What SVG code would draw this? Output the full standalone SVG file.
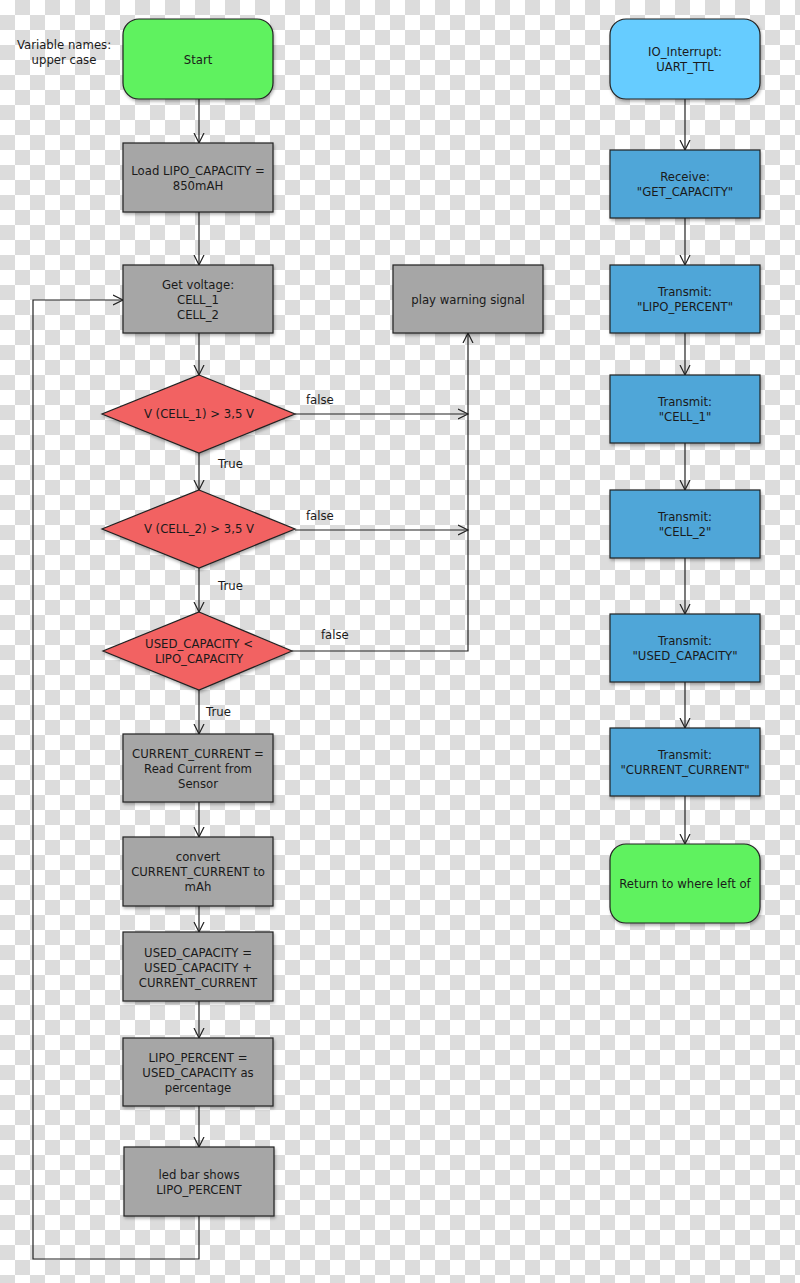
<svg xmlns="http://www.w3.org/2000/svg" width="800" height="1283" viewBox="0 0 800 1283">
<defs>
<pattern id="chk" x="0" y="0" width="30" height="30" patternUnits="userSpaceOnUse">
<rect width="30" height="30" fill="#ffffff"/>
<rect x="15" y="0" width="15" height="15" fill="#dcdcdc"/>
<rect x="0" y="15" width="15" height="15" fill="#dcdcdc"/>
</pattern>
<marker id="arr" markerWidth="12" markerHeight="12" refX="10" refY="6" orient="auto" markerUnits="userSpaceOnUse">
<path d="M0,1 L10,6 L0,11" fill="none" stroke="#222" stroke-width="1.2"/>
</marker>
<filter id="sh" x="-10%" y="-10%" width="125%" height="130%">
<feDropShadow dx="1" dy="2" stdDeviation="1.5" flood-color="#000" flood-opacity="0.3"/>
</filter>
</defs>
<style>
.t{font-family:"DejaVu Sans","Liberation Sans",sans-serif;font-size:11.7px;fill:#1a1a1a;text-anchor:middle}
.l{font-family:"DejaVu Sans","Liberation Sans",sans-serif;font-size:11.7px;fill:#1a1a1a}
.gray{fill:#a6a6a6;stroke:#222;stroke-width:1.2;filter:url(#sh)}
.grn{fill:#5ef25e;stroke:#222;stroke-width:1.2;filter:url(#sh)}
.red{fill:#f26262;stroke:#222;stroke-width:1.2;filter:url(#sh)}
.lb{fill:#66ccff;stroke:#222;stroke-width:1.2;filter:url(#sh)}
.bl{fill:#4fa6d8;stroke:#222;stroke-width:1.2;filter:url(#sh)}
.c{fill:none;stroke:#222;stroke-width:1.2}
</style>
<rect width="800" height="1283" fill="url(#chk)"/>

<g id="note"><text class="t" x="64" y="49">Variable names:</text><text class="t" x="64" y="64">upper case</text></g>

<g id="connectors">
<path class="c" d="M199,99 V143" marker-end="url(#arr)"/>
<path class="c" d="M199,212 V265" marker-end="url(#arr)"/>
<path class="c" d="M199,333 V375" marker-end="url(#arr)"/>
<path class="c" d="M199,453 V490" marker-end="url(#arr)"/>
<path class="c" d="M199,568 V612" marker-end="url(#arr)"/>
<path class="c" d="M199,690 V734" marker-end="url(#arr)"/>
<path class="c" d="M199,802 V837" marker-end="url(#arr)"/>
<path class="c" d="M199,906 V932" marker-end="url(#arr)"/>
<path class="c" d="M199,1001 V1038" marker-end="url(#arr)"/>
<path class="c" d="M199,1106 V1147" marker-end="url(#arr)"/>
<path class="c" d="M199,1216 V1259 H33 V300 H123" marker-end="url(#arr)"/>
<path class="c" d="M295,414 H468" marker-end="url(#arr)"/>
<path class="c" d="M295,530 H468" marker-end="url(#arr)"/>
<path class="c" d="M292,651 H468 V333" marker-end="url(#arr)"/>
<path class="c" d="M685,99 V150" marker-end="url(#arr)"/>
<path class="c" d="M685,218 V265" marker-end="url(#arr)"/>
<path class="c" d="M685,333 V375" marker-end="url(#arr)"/>
<path class="c" d="M685,443 V490" marker-end="url(#arr)"/>
<path class="c" d="M685,558 V614" marker-end="url(#arr)"/>
<path class="c" d="M685,682 V728" marker-end="url(#arr)"/>
<path class="c" d="M685,796 V844" marker-end="url(#arr)"/>
<text class="l" x="306" y="404">false</text>
<text class="l" x="306" y="520">false</text>
<text class="l" x="321" y="639">false</text>
<text class="l" x="218" y="468">True</text>
<text class="l" x="218" y="590">True</text>
<text class="l" x="206" y="716">True</text>
</g>

<g id="start"><rect class="grn" x="123" y="19" width="150" height="80" rx="16"/><text class="t" x="198" y="64">Start</text></g>
<g id="load"><rect class="gray" x="123" y="143" width="150" height="69"/><text class="t" x="198" y="175">Load LIPO_CAPACITY =</text><text class="t" x="198" y="190">850mAH</text></g>
<g id="getvoltage"><rect class="gray" x="123" y="265" width="150" height="68"/><text class="t" x="198" y="289">Get voltage:</text><text class="t" x="198" y="304">CELL_1</text><text class="t" x="198" y="319">CELL_2</text></g>
<g id="cond1"><polygon class="red" points="199,375 295,414 199,453 102,414"/><text class="t" x="199" y="418">V (CELL_1) &gt; 3,5 V</text></g>
<g id="cond2"><polygon class="red" points="199,490 295,529 199,568 102,529"/><text class="t" x="199" y="533">V (CELL_2) &gt; 3,5 V</text></g>
<g id="cond3"><polygon class="red" points="199,612 292,651 199,690 103,651"/><text class="t" x="199" y="648">USED_CAPACITY &lt;</text><text class="t" x="199" y="663">LIPO_CAPACITY</text></g>
<g id="warning"><rect class="gray" x="393" y="265" width="150" height="68"/><text class="t" x="468" y="304">play warning signal</text></g>
<g id="readcurrent"><rect class="gray" x="123" y="734" width="150" height="68"/><text class="t" x="198" y="758">CURRENT_CURRENT =</text><text class="t" x="198" y="773">Read Current from</text><text class="t" x="198" y="788">Sensor</text></g>
<g id="convert"><rect class="gray" x="123" y="837" width="150" height="69"/><text class="t" x="198" y="861">convert</text><text class="t" x="198" y="876">CURRENT_CURRENT to</text><text class="t" x="198" y="891">mAh</text></g>
<g id="usedcap"><rect class="gray" x="123" y="932" width="150" height="69"/><text class="t" x="198" y="957">USED_CAPACITY =</text><text class="t" x="198" y="972">USED_CAPACITY +</text><text class="t" x="198" y="987">CURRENT_CURRENT</text></g>
<g id="lipopercent"><rect class="gray" x="123" y="1038" width="150" height="68"/><text class="t" x="198" y="1062">LIPO_PERCENT =</text><text class="t" x="198" y="1077">USED_CAPACITY as</text><text class="t" x="198" y="1092">percentage</text></g>
<g id="ledbar"><rect class="gray" x="124" y="1147" width="150" height="69"/><text class="t" x="199" y="1179">led bar shows</text><text class="t" x="199" y="1194">LIPO_PERCENT</text></g>

<g id="interrupt"><rect class="lb" x="610" y="19" width="150" height="80" rx="16"/><text class="t" x="685" y="56">IO_Interrupt:</text><text class="t" x="685" y="71">UART_TTL</text></g>
<g id="receive"><rect class="bl" x="610" y="150" width="150" height="68"/><text class="t" x="685" y="181">Receive:</text><text class="t" x="685" y="196">"GET_CAPACITY"</text></g>
<g id="tx1"><rect class="bl" x="610" y="265" width="150" height="68"/><text class="t" x="685" y="296">Transmit:</text><text class="t" x="685" y="311">"LIPO_PERCENT"</text></g>
<g id="tx2"><rect class="bl" x="610" y="375" width="150" height="68"/><text class="t" x="685" y="406">Transmit:</text><text class="t" x="685" y="421">"CELL_1"</text></g>
<g id="tx3"><rect class="bl" x="610" y="490" width="150" height="68"/><text class="t" x="685" y="521">Transmit:</text><text class="t" x="685" y="536">"CELL_2"</text></g>
<g id="tx4"><rect class="bl" x="610" y="614" width="150" height="68"/><text class="t" x="685" y="645">Transmit:</text><text class="t" x="685" y="660">"USED_CAPACITY"</text></g>
<g id="tx5"><rect class="bl" x="610" y="728" width="150" height="68"/><text class="t" x="685" y="759">Transmit:</text><text class="t" x="685" y="774">"CURRENT_CURRENT"</text></g>
<g id="return"><rect class="grn" x="610" y="844" width="150" height="79" rx="16"/><text class="t" x="685" y="888">Return to where left of</text></g>
</svg>
